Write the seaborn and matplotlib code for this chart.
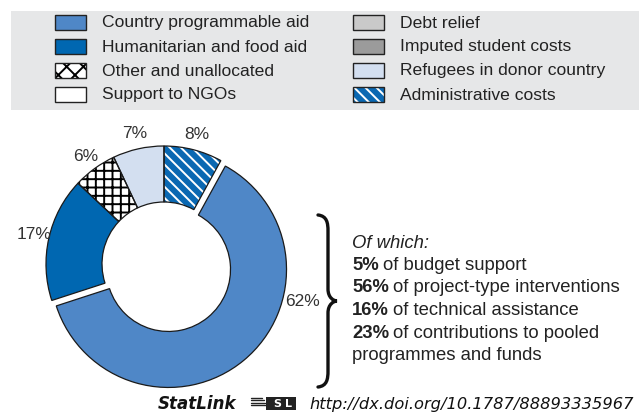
import numpy as np
import matplotlib
matplotlib.use("Agg")
import matplotlib.pyplot as plt
from matplotlib import font_manager
from matplotlib.patches import Rectangle, PathPatch
from matplotlib.path import Path
import seaborn as sns

# ---- data -------------------------------------------------------------
legend_labels = [
    "Country programmable aid", "Humanitarian and food aid",
    "Other and unallocated", "Support to NGOs",
    "Debt relief", "Imputed student costs",
    "Refugees in donor country", "Administrative costs",
]
legend_colors = ["#4f87c7", "#0067b1", "white", "white",
                 "#c9c9c9", "#9b9b9b", "#d3dff0", "#0a68b2"]
legend_hatch = [None, None, "xx", None, None, None, None, "\\\\\\"]

# ring slices, clockwise from 12 o'clock
slice_names = ["Administrative costs", "Country programmable aid",
               "Humanitarian and food aid", "Other and unallocated",
               "Refugees in donor country"]
slice_values = [8, 62, 17, 6, 7]
slice_colors = ["#0a68b2", "#4f87c7", "#0067b1", "white", "#d3dff0"]
slice_hatch = ["\\\\\\", None, None, "++", None]
slice_hatch_color = ["white", "black", "black", "black", "black"]
exploded = "Country programmable aid"

breakdown_pct = ["5%", "56%", "16%", "23%"]
breakdown_txt = ["of budget support", "of project-type interventions",
                 "of technical assistance", "of contributions to pooled"]
breakdown_tail = "programmes and funds"

url = "http://dx.doi.org/10.1787/88893335967"

# ---- style ------------------------------------------------------------
sns.set_theme(style="white")
names = {f.name for f in font_manager.fontManager.ttflist}
narrow = "Liberation Sans Narrow" if "Liberation Sans Narrow" in names else "Liberation Sans"
plt.rcParams["font.family"] = [narrow, "DejaVu Sans"]
plt.rcParams["hatch.linewidth"] = 1.4
TXT = "#222222"

W, H = 639, 419
fig = plt.figure(figsize=(W / 100, H / 100), dpi=100)

# overlay in pixel units (y downwards) for legend, brace and notes
ov = fig.add_axes([0, 0, 1, 1], zorder=0)
ov.set_xlim(0, W)
ov.set_ylim(H, 0)
ov.axis("off")

# ---- legend -----------------------------------------------------------
ov.add_patch(Rectangle((11, 11), W - 11, 99, facecolor="#e6e7e8", edgecolor="none"))
row_y = [23, 47, 71, 95]
col_x = [55, 353]
for i, (lab, col, hat) in enumerate(zip(legend_labels, legend_colors, legend_hatch)):
    c, r = divmod(i, 4)
    x0, yc = col_x[c], row_y[r]
    hc = "white" if col != "white" and hat else "black"
    ov.add_patch(Rectangle((x0, yc - 7.5), 31, 15, facecolor=col, hatch=hat,
                           edgecolor=hc, linewidth=0))
    ov.add_patch(Rectangle((x0, yc - 7.5), 31, 15, facecolor="none",
                           edgecolor="#222222", linewidth=1.0))
    ov.text(x0 + 47, yc, lab, fontsize=12.6, color=TXT, va="center", ha="left")

# ---- ring chart -------------------------------------------------------
cx, cy, R = 164, 264, 118
lim = 1.4
half = lim * R
ax = fig.add_axes([(cx - half) / W, (H - cy - half) / H, 2 * half / W, 2 * half / H],
                  zorder=1)

explode = [0.06 if n == exploded else 0 for n in slice_names]
ring = dict(width=(118 - 62) / 118)

fill_wedges, texts = ax.pie(
    slice_values, colors=slice_colors, startangle=90, counterclock=False,
    explode=explode, radius=1, wedgeprops=dict(linewidth=0, **ring),
    labels=[f"{v}%" for v in slice_values], labeldistance=1.13,
    textprops=dict(fontsize=12.5, color="#333333"))
for w, h, hc in zip(fill_wedges, slice_hatch, slice_hatch_color):
    if h:
        w.set_hatch(h)
        w.set_edgecolor(hc)
# outlines on top
outline, _ = ax.pie(
    slice_values, colors=["white"] * len(slice_values), startangle=90,
    counterclock=False, explode=explode, radius=1,
    wedgeprops=dict(linewidth=0.9, edgecolor="#1a1a1a", **ring))
for w in outline:
    w.set_facecolor("none")

for t, n in zip(texts, slice_names):
    t.set_ha("center")
    if n == exploded:
        t.set_position((1.17, -0.32))

ax.set_xlim(-lim, lim)
ax.set_ylim(-lim, lim)
ax.set_aspect("auto")
ax.axis("off")

# ---- brace and breakdown ---------------------------------------------
top, mid, bot = 215, 301, 387
xl, xm, xr = 318, 328, 337
verts = [(xl, top), (xm - 1, top + 1), (xm, top + 8), (xm, top + 16),
         (xm, mid - 12),
         (xm, mid - 3), (xr - 3, mid), (xr, mid),
         (xr - 3, mid), (xm, mid + 3), (xm, mid + 12),
         (xm, bot - 16),
         (xm, bot - 8), (xm - 1, bot - 1), (xl, bot)]
codes = [Path.MOVETO, Path.CURVE4, Path.CURVE4, Path.CURVE4,
         Path.LINETO,
         Path.CURVE4, Path.CURVE4, Path.CURVE4,
         Path.CURVE4, Path.CURVE4, Path.CURVE4,
         Path.LINETO,
         Path.CURVE4, Path.CURVE4, Path.CURVE4]
ov.add_patch(PathPatch(Path(verts, codes), facecolor="none",
                       edgecolor="#111111", linewidth=2.4, capstyle="round"))

tx = 352
FS = 13.3
ov.text(tx, 243, "Of which:", fontsize=FS, style="italic", color=TXT, va="center")
fig.canvas.draw()
renderer = fig.canvas.get_renderer()
line_y = [265, 287, 310, 333]
for y, p, s in zip(line_y, breakdown_pct, breakdown_txt):
    tb = ov.text(tx, y, p, fontsize=FS, weight="bold", color=TXT, va="center")
    bb = tb.get_window_extent(renderer)
    x_end = ov.transData.inverted().transform((bb.x1, 0))[0]
    ov.text(x_end + 4, y, s, fontsize=FS, color=TXT, va="center")
ov.text(tx, 355, breakdown_tail, fontsize=FS, color=TXT, va="center")

# ---- StatLink footer ---------------------------------------------------
ov.text(158, 404, "StatLink", fontsize=12, weight="bold", style="italic",
        family="DejaVu Sans", color="#111111", va="center")
for k in range(4):
    ov.plot([251, 262 + k * 1.5], [397.5 + k * 2.5, 397.5 + k * 2.5],
            color="#222222", lw=1.0)
ov.add_patch(Rectangle((266, 397), 30, 13, facecolor="#222222", edgecolor="none"))
ov.text(273, 403.5, "S", fontsize=8, weight="bold", color="white", va="center",
        family="DejaVu Sans")
ov.text(285, 403.5, "L", fontsize=8, weight="bold", color="white", va="center",
        family="DejaVu Sans")
ov.text(309, 404, url, fontsize=11.7, style="italic", family="DejaVu Sans",
        color="#111111", va="center")

fig.savefig("out.png", dpi=100, facecolor="white")
